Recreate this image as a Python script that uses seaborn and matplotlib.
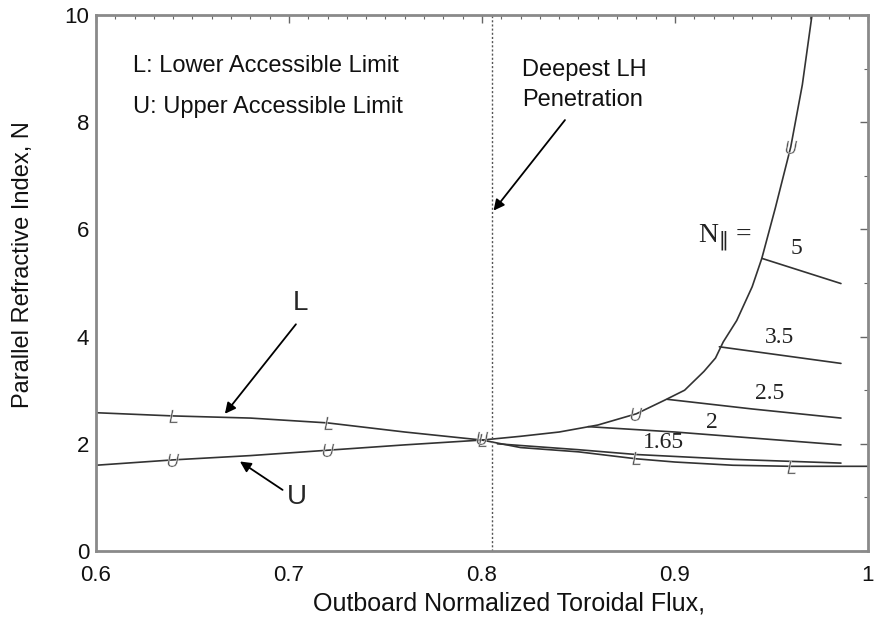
import numpy as np
import pandas as pd
import seaborn as sns
import matplotlib.pyplot as plt
from matplotlib.ticker import MultipleLocator

# Lower accessible limit (L) and upper accessible limit (U), left branch
lower_x = [0.60, 0.64, 0.68, 0.72, 0.76, 0.80]
lower_y = [2.58, 2.52, 2.48, 2.39, 2.22, 2.07]
upper_x = [0.60, 0.64, 0.68, 0.72, 0.76, 0.80]
upper_y = [1.60, 1.70, 1.78, 1.88, 1.98, 2.07]

# right branch: accessibility boundary rising steeply
rise_x = [0.80, 0.82, 0.84, 0.86, 0.88, 0.895, 0.905, 0.915, 0.921, 0.925, 0.932, 0.940, 0.945, 0.952, 0.960, 0.966, 0.971]
rise_y = [2.07, 2.14, 2.22, 2.35, 2.56, 2.82, 3.00, 3.35, 3.60, 3.90, 4.30, 4.93, 5.46, 6.40, 7.54, 8.70, 10.0]

# right branch: lower boundary flattening out
fall_x = [0.80, 0.82, 0.85, 0.88, 0.90, 0.93, 0.96, 1.00]
fall_y = [2.07, 1.93, 1.85, 1.72, 1.66, 1.60, 1.58, 1.58]

# rays for each launched N_parallel
rays = {
    "1.65": ([0.808, 0.85, 0.88, 0.93, 0.986], [2.00, 1.89, 1.80, 1.71, 1.64]),
    "2": ([0.855, 0.90, 0.986], [2.32, 2.22, 1.98]),
    "2.5": ([0.896, 0.94, 0.986], [2.83, 2.65, 2.48]),
    "3.5": ([0.923, 0.986], [3.81, 3.50]),
    "5": ([0.945, 0.986], [5.46, 4.99]),
}
ray_label_pos = {"1.65": (0.894, 2.03), "2": (0.919, 2.40), "2.5": (0.949, 2.93),
                 "3.5": (0.954, 3.99), "5": (0.963, 5.64)}

# small marker glyphs along the curves
l_mark_x = [0.64, 0.72, 0.80, 0.88, 0.96]
l_mark_y = [2.52, 2.39, 2.07, 1.73, 1.57]
u_mark_x = [0.64, 0.72, 0.80, 0.88, 0.96]
u_mark_y = [1.70, 1.88, 2.10, 2.56, 7.54]

deepest_x = 0.805

sns.set_theme(style="white")
plt.rcParams['font.family'] = ['Liberation Sans', 'DejaVu Sans']

fig = plt.figure(figsize=(8.74, 6.41), dpi=100)
ax = fig.add_axes([0.1098, 0.1404, 0.8833, 0.8362])

line_kw = dict(color="#333333", linewidth=1.2, sort=False, estimator=None, legend=False, ax=ax)
sns.lineplot(x=lower_x, y=lower_y, **line_kw)
sns.lineplot(x=upper_x, y=upper_y, **line_kw)
sns.lineplot(x=rise_x, y=rise_y, **line_kw)
sns.lineplot(x=fall_x, y=fall_y, **line_kw)
for name, (rx, ry) in rays.items():
    sns.lineplot(x=rx, y=ry, **line_kw)
    lx, ly = ray_label_pos[name]
    ax.text(lx, ly, name, family="Liberation Serif", fontsize=17, ha="center", va="center", color="#222222")

ax.text(0.926, 5.84, r"N$_{\Vert}$ =", family="Liberation Serif", fontsize=20, ha="center", va="center", color="#222222")

sns.scatterplot(x=l_mark_x, y=l_mark_y, marker="$L$", s=90, color="#555555", linewidth=0.3, ax=ax, zorder=3)
sns.scatterplot(x=u_mark_x, y=u_mark_y, marker="$U$", s=90, color="#555555", linewidth=0.3, ax=ax, zorder=3)

ax.axvline(deepest_x, color="#555555", linestyle=(0, (1.5, 1.5)), linewidth=1.0)

ax.text(0.619, 9.04, "L: Lower Accessible Limit", fontsize=17, va="center", color="#111111")
ax.text(0.619, 8.29, "U: Upper Accessible Limit", fontsize=17, va="center", color="#111111")
ax.text(0.8206, 8.97, "Deepest LH", fontsize=17, va="center", color="#111111")
ax.text(0.8206, 8.41, "Penetration", fontsize=17, va="center", color="#111111")

arrow = dict(arrowstyle="-|>", color="black", linewidth=1.3, mutation_scale=16, shrinkA=0, shrinkB=0)
ax.annotate("", xy=(0.806, 6.35), xytext=(0.843, 8.04), arrowprops=arrow)
ax.annotate("", xy=(0.6668, 2.56), xytext=(0.7036, 4.23), arrowprops=arrow)
ax.annotate("", xy=(0.6746, 1.67), xytext=(0.6967, 1.14), arrowprops=arrow)
ax.text(0.7057, 4.62, "L", fontsize=20, ha="center", va="center")
ax.text(0.704, 1.01, "U", fontsize=20, ha="center", va="center")

ax.set_xlim(0.6, 1.0)
ax.set_ylim(0, 10)
ax.set_xticks([0.6, 0.7, 0.8, 0.9, 1.0])
ax.set_xticklabels(["0.6", "0.7", "0.8", "0.9", "1"])
ax.set_yticks([0, 2, 4, 6, 8, 10])
ax.xaxis.set_minor_locator(MultipleLocator(0.01))
ax.yaxis.set_minor_locator(MultipleLocator(1))
ax.tick_params(which="both", direction="in", top=True, right=True, color="#666666",
               labelsize=16, labelcolor="#111111")
ax.tick_params(which="major", length=6, width=1.0)
ax.tick_params(axis="x", which="major", pad=10)
ax.tick_params(axis="y", which="major", pad=5)
ax.tick_params(which="minor", length=3, width=0.8)
for sp in ax.spines.values():
    sp.set_color("#8a8a8a")
    sp.set_linewidth(2.0)

ax.set_xlabel("Outboard Normalized Toroidal Flux,", fontsize=18, color="#111111")
ax.set_ylabel("Parallel Refractive Index, N", fontsize=17, color="#111111")
ax.xaxis.set_label_coords(0.535, -0.076)
ax.yaxis.set_label_coords(-0.080, 0.534)

plt.savefig("out.png", dpi=100)
